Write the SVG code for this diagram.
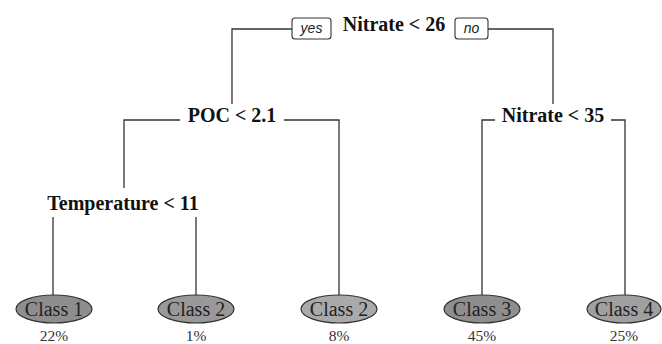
<svg xmlns="http://www.w3.org/2000/svg" width="662" height="344" viewBox="0 0 662 344">
<style>
.split{font-family:"Liberation Serif","Times New Roman",serif;font-weight:bold;font-size:20px;fill:#111;text-anchor:middle}
.lbl{font-family:"Liberation Sans",sans-serif;font-style:italic;font-size:14px;fill:#222;text-anchor:middle}
.cls{font-family:"Liberation Serif","Times New Roman",serif;font-size:20px;fill:#222;text-anchor:middle}
.pct{font-family:"Liberation Serif","Times New Roman",serif;font-size:15.5px;fill:#333;text-anchor:middle}
.edge{fill:none;stroke:#333;stroke-width:1.3}
.leaf ellipse{stroke:#333;stroke-width:1.2}
.box{fill:#fff;stroke:#333;stroke-width:1.1}
</style>
<rect width="662" height="344" fill="#fff"/>
<g id="connectors">
<polyline class="edge" points="292,29 232,29 232,104"/>
<polyline class="edge" points="488,29 553,29 553,104"/>
<polyline class="edge" points="180,120 124,120 124,188"/>
<polyline class="edge" points="284,120 339,120 339,296"/>
<polyline class="edge" points="495,120 482,120 482,296"/>
<polyline class="edge" points="611,120 625,120 625,296"/>
<line class="edge" x1="53" y1="217" x2="53" y2="296"/>
<line class="edge" x1="196" y1="217" x2="196" y2="296"/>
<rect class="box" x="292" y="18" width="39" height="21" rx="3"/>
<text class="lbl" x="311.5" y="33">yes</text>
<rect class="box" x="455" y="18" width="33" height="21" rx="3"/>
<text class="lbl" x="471.5" y="33">no</text>
</g>
<g id="n1"><text class="split" x="394" y="31">Nitrate &lt; 26</text></g>
<g id="n2"><text class="split" x="232" y="122">POC &lt; 2.1</text></g>
<g id="n3"><text class="split" x="553" y="122">Nitrate &lt; 35</text></g>
<g id="n4"><text class="split" x="123" y="210">Temperature &lt; 11</text></g>
<g id="leaf1" class="leaf"><ellipse cx="54" cy="309" rx="38" ry="14" fill="#8e8e8e"/><text class="cls" x="54" y="316">Class 1</text><text class="pct" x="54" y="341">22%</text></g>
<g id="leaf2" class="leaf"><ellipse cx="196" cy="309" rx="38" ry="14" fill="#999"/><text class="cls" x="196" y="316">Class 2</text><text class="pct" x="196" y="341">1%</text></g>
<g id="leaf3" class="leaf"><ellipse cx="339" cy="309" rx="38" ry="14" fill="#aaa"/><text class="cls" x="339" y="316">Class 2</text><text class="pct" x="339" y="341">8%</text></g>
<g id="leaf4" class="leaf"><ellipse cx="482" cy="309" rx="38" ry="14" fill="#8e8e8e"/><text class="cls" x="482" y="316">Class 3</text><text class="pct" x="482" y="341">45%</text></g>
<g id="leaf5" class="leaf"><ellipse cx="624" cy="309" rx="37" ry="14" fill="#a0a0a0"/><text class="cls" x="624" y="316">Class 4</text><text class="pct" x="624" y="341">25%</text></g>
</svg>
